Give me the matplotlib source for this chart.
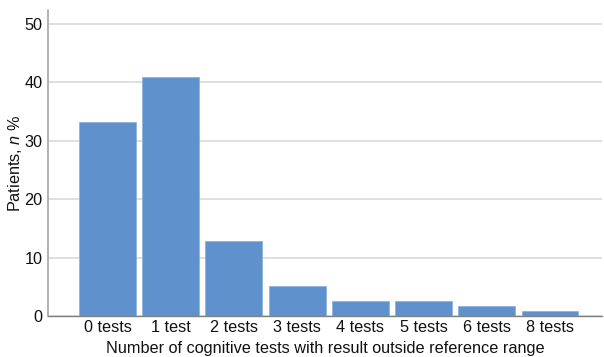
import matplotlib.pyplot as plt

plt.rcParams['font.family'] = ['Liberation Sans', 'DejaVu Sans']
plt.rcParams['mathtext.fontset'] = 'custom'
plt.rcParams['mathtext.rm'] = 'Liberation Sans'
plt.rcParams['mathtext.it'] = 'Liberation Sans:italic'

# share of patients per number of abnormal cognitive tests
categories = ['0 tests', '1 test', '2 tests', '3 tests', '4 tests', '5 tests', '6 tests', '8 tests']
patients_pct = [33.3, 41.0, 12.8, 5.1, 2.6, 2.6, 1.7, 0.8]

fig = plt.figure(figsize=(6.04, 3.57), dpi=100)
ax = fig.add_axes([0.0795, 0.115, 0.918, 0.857])

pos = range(len(categories))
ax.bar(pos, patients_pct, width=0.9, color='#5f91cc', edgecolor='#8fb2dc', linewidth=0.6, zorder=3)

ax.set_xlim(-0.94, 7.83)
ax.set_ylim(0, 52.4)
ax.set_yticks([0, 10, 20, 30, 40, 50])
ax.set_xticks(list(pos))
ax.set_xticklabels(categories)
ax.yaxis.grid(True, color='#d9d9d9', linewidth=1.2, zorder=0)
ax.tick_params(length=0, labelsize=11.7, colors='#111111', pad=4)
ax.tick_params(axis='x', pad=3)

for side in ['top', 'right']:
    ax.spines[side].set_visible(False)
ax.spines['left'].set_color('#a6a6a6')
ax.spines['left'].set_linewidth(1.2)
ax.spines['bottom'].set_color('#7f7f7f')
ax.spines['bottom'].set_linewidth(1.0)

ax.set_xlabel('Number of cognitive tests with result outside reference range', fontsize=11.7, labelpad=4, color='#111111')
ax.set_ylabel('Patients, $n$ %', fontsize=11.7, labelpad=0.5, color='#111111')

fig.savefig('out.png', dpi=100)
